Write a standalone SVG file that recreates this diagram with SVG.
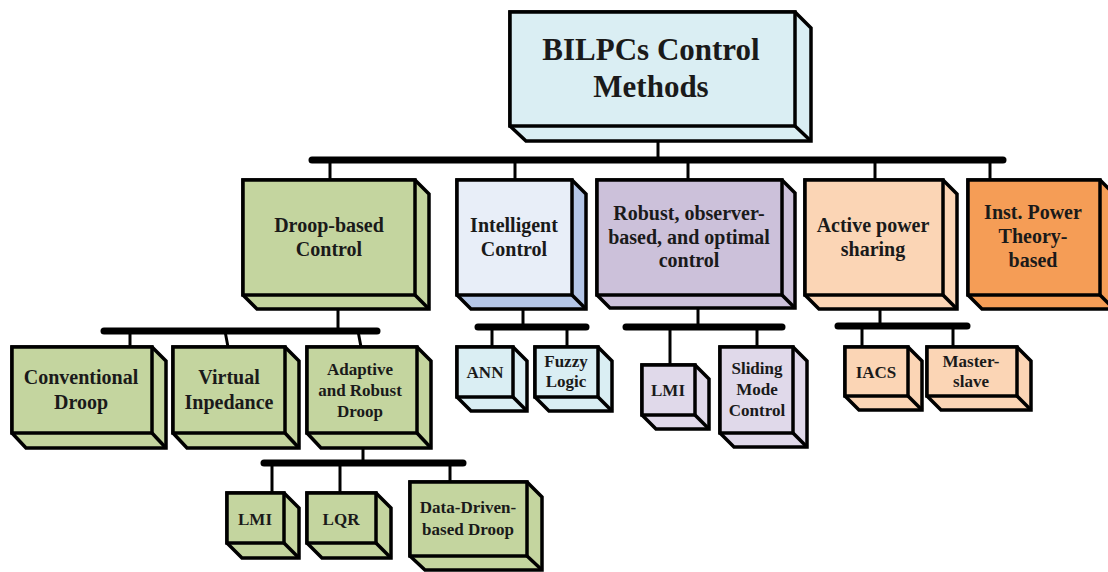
<svg xmlns="http://www.w3.org/2000/svg" width="1108" height="572" viewBox="0 0 1108 572">
<defs>
<style>
.side{stroke:#000;stroke-width:3.5;stroke-linejoin:miter}
.front{stroke:#000;stroke-width:3.5}
.edge{stroke:#000;stroke-width:3.5;fill:none}
.bar{stroke:#000;stroke-width:7;stroke-linecap:round;fill:none}
.ln{stroke:#000;stroke-width:3;fill:none}
text{font-family:"Liberation Serif","Times New Roman",serif;font-weight:bold;fill:#1a1a1a;text-anchor:middle}
.t31{font-size:31px}
.t20{font-size:20px}
.t17{font-size:17px}
.blue .side,.blue .front{fill:#daeef3}
.green .side,.green .front{fill:#c4d59f}
.intel .side{fill:#b4c6e7}
.intel .front{fill:#e8eef8}
.purple .side,.purple .front{fill:#ccc1da}
.lpurple .side,.lpurple .front{fill:#e0d9ea}
.peach .side,.peach .front{fill:#fbd5b5}
.orange .side,.orange .front{fill:#f59d56}
</style>
</defs>
<rect width="1108" height="572" fill="#fff"/>
<g id="connectors">
<line class="ln" x1="658" y1="140" x2="658" y2="160"/>
<line class="bar" x1="312" y1="160" x2="1003" y2="160"/>
<line class="ln" x1="330" y1="160" x2="330" y2="180"/>
<line class="ln" x1="515" y1="160" x2="515" y2="180"/>
<line class="ln" x1="688" y1="160" x2="688" y2="180"/>
<line class="ln" x1="875" y1="160" x2="875" y2="180"/>
<line class="ln" x1="990" y1="160" x2="990" y2="180"/>
<line class="ln" x1="338" y1="307" x2="338" y2="331"/>
<line class="bar" x1="104" y1="331" x2="377" y2="331"/>
<line class="ln" x1="130" y1="331" x2="130" y2="347"/>
<line class="ln" x1="225" y1="331" x2="228" y2="347"/>
<line class="ln" x1="358" y1="331" x2="361" y2="347"/>
<line class="ln" x1="363" y1="448" x2="363" y2="463"/>
<line class="bar" x1="264" y1="463" x2="463" y2="463"/>
<line class="ln" x1="272" y1="463" x2="272" y2="493"/>
<line class="ln" x1="340" y1="463" x2="340" y2="493"/>
<line class="ln" x1="450" y1="463" x2="450" y2="482"/>
<line class="ln" x1="523" y1="308" x2="523" y2="327"/>
<line class="bar" x1="478" y1="327" x2="586" y2="327"/>
<line class="ln" x1="492" y1="327" x2="492" y2="347"/>
<line class="ln" x1="567" y1="327" x2="567" y2="347"/>
<line class="ln" x1="698" y1="307" x2="698" y2="327"/>
<line class="bar" x1="626" y1="327" x2="782" y2="327"/>
<line class="ln" x1="670" y1="327" x2="670" y2="365"/>
<line class="ln" x1="757" y1="327" x2="757" y2="347"/>
<line class="ln" x1="880" y1="308" x2="880" y2="326"/>
<line class="bar" x1="838" y1="326" x2="967" y2="326"/>
<line class="ln" x1="862" y1="326" x2="862" y2="347"/>
<line class="ln" x1="953" y1="326" x2="953" y2="347"/>
</g>
<g id="root" class="blue">
<path class="side" d="M510 12 H795 L811 28 V141 H526 L510 126 Z"/>
<rect class="front" x="510" y="12" width="285" height="114"/>
<path class="edge" d="M795 126 L811 141"/>
<text class="t31" x="651" y="60">BILPCs Control</text>
<text class="t31" x="651" y="97">Methods</text>
</g>
<g id="droop" class="green">
<path class="side" d="M243 180 H415 L429 194 V309 H257 L243 295 Z"/>
<rect class="front" x="243" y="180" width="172" height="115"/>
<path class="edge" d="M415 295 L429 309"/>
<text class="t20" x="329" y="232">Droop-based</text>
<text class="t20" x="329" y="256">Control</text>
</g>
<g id="intelligent" class="intel">
<path class="side" d="M457 180 H572 L586 194 V309 H471 L457 295 Z"/>
<rect class="front" x="457" y="180" width="115" height="115"/>
<path class="edge" d="M572 295 L586 309"/>
<text class="t20" x="514" y="232">Intelligent</text>
<text class="t20" x="514" y="256">Control</text>
</g>
<g id="robust" class="purple">
<path class="side" d="M597 180 H782 L795 193 V308 H610 L597 295 Z"/>
<rect class="front" x="597" y="180" width="185" height="115"/>
<path class="edge" d="M782 295 L795 308"/>
<text class="t20" x="689" y="220">Robust, observer-</text>
<text class="t20" x="689" y="244">based, and optimal</text>
<text class="t20" x="689" y="267">control</text>
</g>
<g id="active" class="peach">
<path class="side" d="M805 180 H943 L957 194 V309 H819 L805 295 Z"/>
<rect class="front" x="805" y="180" width="138" height="115"/>
<path class="edge" d="M943 295 L957 309"/>
<text class="t20" x="873" y="232">Active power</text>
<text class="t20" x="873" y="256">sharing</text>
</g>
<g id="inst" class="orange">
<path class="side" d="M968 180 H1100 L1114 194 V309 H982 L968 295 Z"/>
<rect class="front" x="968" y="180" width="132" height="115"/>
<path class="edge" d="M1100 295 L1114 309"/>
<text class="t20" x="1033" y="219">Inst. Power</text>
<text class="t20" x="1033" y="243">Theory-</text>
<text class="t20" x="1033" y="267">based</text>
</g>
<g id="conventional" class="green">
<path class="side" d="M12 347 H152 L166 361 V448 H26 L12 433 Z"/>
<rect class="front" x="12" y="347" width="140" height="86"/>
<path class="edge" d="M152 433 L166 448"/>
<text class="t20" x="81" y="384">Conventional</text>
<text class="t20" x="81" y="409">Droop</text>
</g>
<g id="virtual" class="green">
<path class="side" d="M173 347 H285 L299 361 V448 H187 L173 433 Z"/>
<rect class="front" x="173" y="347" width="112" height="86"/>
<path class="edge" d="M285 433 L299 448"/>
<text class="t20" x="229" y="384">Virtual</text>
<text class="t20" x="229" y="409">Inpedance</text>
</g>
<g id="adaptive" class="green">
<path class="side" d="M307 347 H417 L431 361 V448 H321 L307 433 Z"/>
<rect class="front" x="307" y="347" width="110" height="86"/>
<path class="edge" d="M417 433 L431 448"/>
<text class="t17" x="360" y="375">Adaptive</text>
<text class="t17" x="360" y="396">and Robust</text>
<text class="t17" x="360" y="417">Droop</text>
</g>
<g id="ann" class="blue">
<path class="side" d="M457 347 H513 L527 361 V411 H471 L457 397 Z"/>
<rect class="front" x="457" y="347" width="56" height="50"/>
<path class="edge" d="M513 397 L527 411"/>
<text class="t17" x="485" y="378">ANN</text>
</g>
<g id="fuzzy" class="blue">
<path class="side" d="M535 347 H598 L612 361 V411 H549 L535 397 Z"/>
<rect class="front" x="535" y="347" width="63" height="50"/>
<path class="edge" d="M598 397 L612 411"/>
<text class="t17" x="566" y="367">Fuzzy</text>
<text class="t17" x="566" y="387">Logic</text>
</g>
<g id="lmi-robust" class="lpurple">
<path class="side" d="M642 365 H695 L709 379 V429 H656 L642 415 Z"/>
<rect class="front" x="642" y="365" width="53" height="50"/>
<path class="edge" d="M695 415 L709 429"/>
<text class="t17" x="668" y="396">LMI</text>
</g>
<g id="sliding" class="lpurple">
<path class="side" d="M720 347 H793 L807 361 V447 H734 L720 433 Z"/>
<rect class="front" x="720" y="347" width="73" height="86"/>
<path class="edge" d="M793 433 L807 447"/>
<text class="t17" x="757" y="374">Sliding</text>
<text class="t17" x="757" y="395">Mode</text>
<text class="t17" x="757" y="416">Control</text>
</g>
<g id="iacs" class="peach">
<path class="side" d="M845 347 H908 L922 361 V410 H859 L845 396 Z"/>
<rect class="front" x="845" y="347" width="63" height="49"/>
<path class="edge" d="M908 396 L922 410"/>
<text class="t17" x="876" y="378">IACS</text>
</g>
<g id="master" class="peach">
<path class="side" d="M927 347 H1017 L1031 361 V410 H941 L927 396 Z"/>
<rect class="front" x="927" y="347" width="90" height="49"/>
<path class="edge" d="M1017 396 L1031 410"/>
<text class="t17" x="971" y="367">Master-</text>
<text class="t17" x="971" y="387">slave</text>
</g>
<g id="lmi-droop" class="green">
<path class="side" d="M227 493 H284 L299 508 V558 H242 L227 543 Z"/>
<rect class="front" x="227" y="493" width="57" height="50"/>
<path class="edge" d="M284 543 L299 558"/>
<text class="t17" x="255" y="525">LMI</text>
</g>
<g id="lqr" class="green">
<path class="side" d="M307 493 H376 L391 508 V558 H322 L307 543 Z"/>
<rect class="front" x="307" y="493" width="69" height="50"/>
<path class="edge" d="M376 543 L391 558"/>
<text class="t17" x="341" y="525">LQR</text>
</g>
<g id="datadriven" class="green">
<path class="side" d="M410 482 H527 L542 497 V570 H425 L410 556 Z"/>
<rect class="front" x="410" y="482" width="117" height="74"/>
<path class="edge" d="M527 556 L542 570"/>
<text class="t17" x="468" y="513">Data-Driven-</text>
<text class="t17" x="468" y="535">based Droop</text>
</g>
</svg>
